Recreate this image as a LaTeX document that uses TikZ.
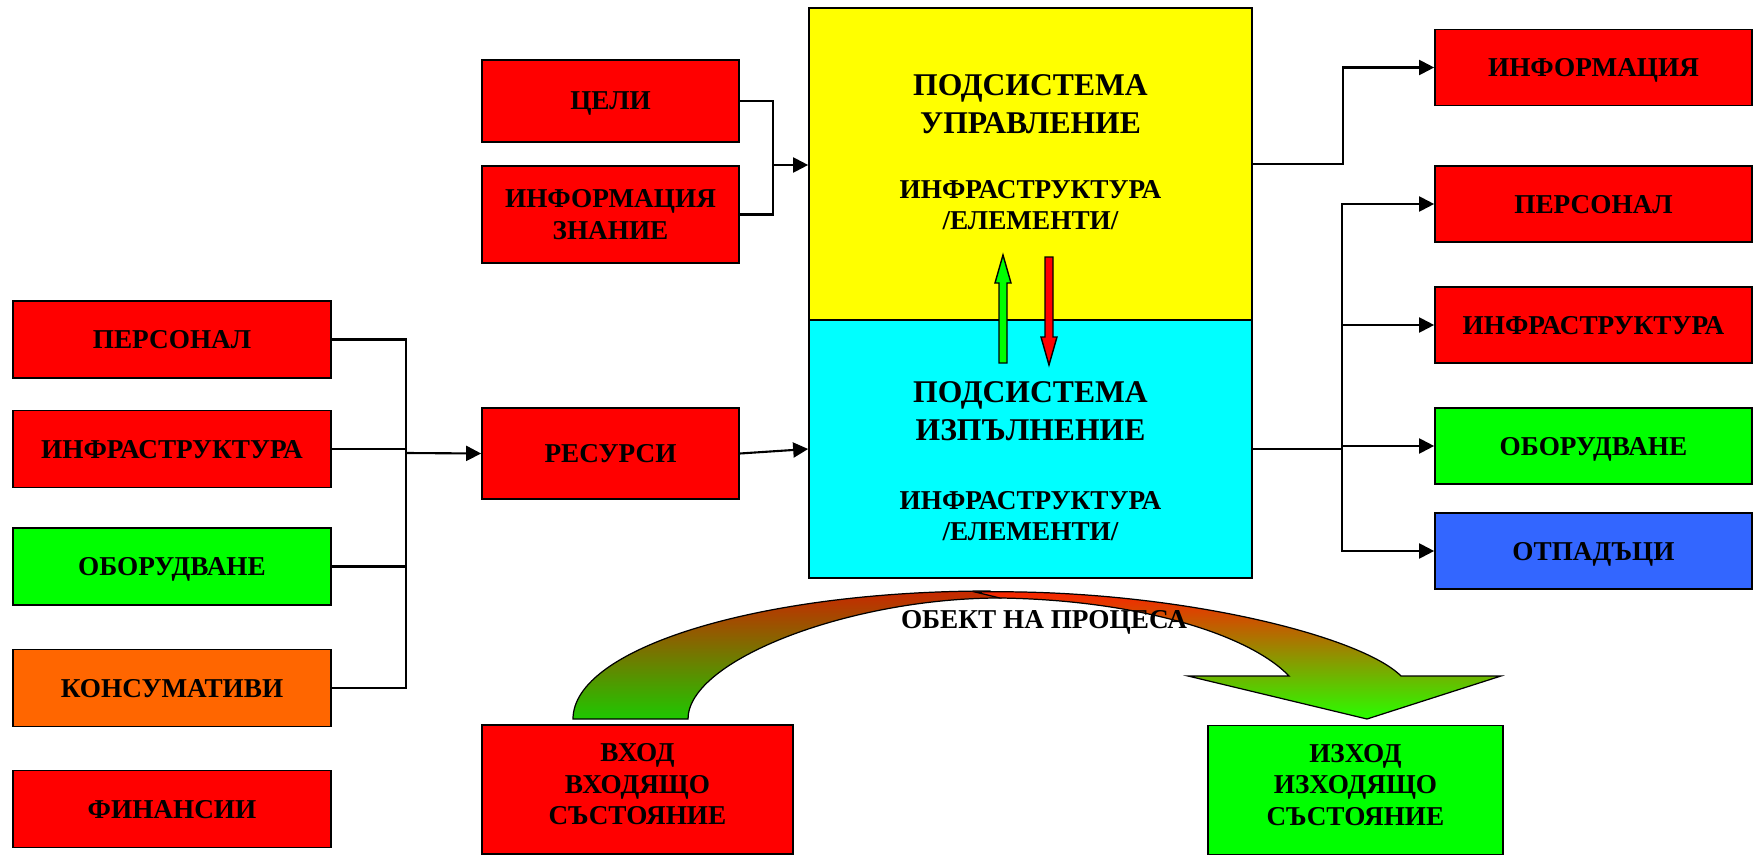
\documentclass[tikz,border=0pt]{standalone}
\usepackage{fontspec}
\setmainfont{Liberation Serif}
\usetikzlibrary{arrows.meta}

\definecolor{boxred}{RGB}{255,0,0}
\definecolor{boxgreen}{RGB}{0,255,0}
\definecolor{boxorange}{RGB}{255,102,0}
\definecolor{boxblue}{RGB}{51,102,255}
\definecolor{ctrlyellow}{RGB}{255,255,0}
\definecolor{execcyan}{RGB}{0,255,255}
\definecolor{bandtopdark}{RGB}{200,40,0}
\definecolor{bandmiddark}{RGB}{150,135,0}
\definecolor{bandbotdark}{RGB}{30,200,0}
\definecolor{bandtop}{RGB}{255,30,0}
\definecolor{bandmid}{RGB}{225,150,0}
\definecolor{bandbot}{RGB}{40,255,0}

\newcommand\blockfont{\bfseries\fontsize{15.5}{18}\selectfont}
\newcommand\headfont{\bfseries\fontsize{18}{21.5}\selectfont}

\begin{document}
\begin{tikzpicture}[
    x=0.02cm, y=-0.02cm,
    block/.style={draw, line width=1pt, inner sep=0pt, align=center, text depth=0pt, font=\blockfont},
    sidebox/.style={block, minimum width=6.36cm, minimum height=1.54cm},
    midbox/.style={block, minimum width=5.14cm},
    outbox/.style={block, minimum width=6.34cm, minimum height=1.52cm},
    statebox/.style={block, minimum height=2.58cm, text depth=6pt},
    subsys/.style={draw, line width=1pt, inner sep=0pt, minimum width=8.86cm},
    link/.style={line width=1.2pt},
    arrow/.style={-{Triangle[length=0.3cm, width=0.3cm]}, line width=1.2pt},
    band/.style={draw=black, line width=0.7pt}
]
\useasboundingbox (0,0) rectangle (1756,855);

% subsystems
\node[subsys, fill=ctrlyellow, minimum height=6.24cm] (ctrl) at (1030.5,164) {};
\node[subsys, fill=execcyan, minimum height=5.16cm] (exec) at (1030.5,449) {};
\node[align=center, font=\headfont] (ctrlhead) at (1030.5,104) {ПОДСИСТЕМА\\УПРАВЛЕНИЕ};
\node[align=center, font=\blockfont] (ctrlsub) at (1030.5,205) {ИНФРАСТРУКТУРА\\/ЕЛЕМЕНТИ/};
\node[align=center, font=\headfont] (exechead) at (1030.5,411) {ПОДСИСТЕМА\\ИЗПЪЛНЕНИЕ};
\node[align=center, font=\blockfont] (execsub) at (1030.5,516) {ИНФРАСТРУКТУРА\\/ЕЛЕМЕНТИ/};

% feedback arrows between the subsystems
\filldraw[fill=boxgreen, draw=black, line width=0.8pt]
  (999,363) -- (999,283) -- (995,283) -- (1003,255) -- (1011,283) -- (1007,283) -- (1007,363) -- cycle;
\filldraw[fill=boxred, draw=black, line width=0.8pt]
  (1045,257) -- (1053,257) -- (1053,337) -- (1057,337) -- (1049,365) -- (1041,337) -- (1045,337) -- cycle;

% left column
\node[sidebox, fill=boxred] (lpers) at (172,339.5) {ПЕРСОНАЛ};
\node[sidebox, fill=boxred] (linfra) at (172,449) {ИНФРАСТРУКТУРА};
\node[sidebox, fill=boxgreen] (lequip) at (172,566.5) {ОБОРУДВАНЕ};
\node[sidebox, fill=boxorange] (lcons) at (172,688) {КОНСУМАТИВИ};
\node[sidebox, fill=boxred] (lfin) at (172,809) {ФИНАНСИИ};

% middle column
\node[midbox, fill=boxred, minimum height=1.64cm] (goals) at (610.5,101) {ЦЕЛИ};
\node[midbox, fill=boxred, minimum height=1.94cm] (infoknow) at (610.5,214.5) {ИНФОРМАЦИЯ\\ЗНАНИЕ};
\node[midbox, fill=boxred, minimum height=1.82cm] (res) at (610.5,453.5) {РЕСУРСИ};

% right column
\node[outbox, fill=boxred] (rinfo) at (1593.5,67.5) {ИНФОРМАЦИЯ};
\node[outbox, fill=boxred] (rpers) at (1593.5,204) {ПЕРСОНАЛ};
\node[outbox, fill=boxred] (rinfra) at (1593.5,325) {ИНФРАСТРУКТУРА};
\node[outbox, fill=boxgreen] (requip) at (1593.5,446) {ОБОРУДВАНЕ};
\node[outbox, fill=boxblue] (rwaste) at (1593.5,551) {ОТПАДЪЦИ};

% input / output states
\node[statebox, fill=boxred, minimum width=6.22cm] (input) at (637.5,789.5) {ВХОД\\ВХОДЯЩО\\СЪСТОЯНИЕ};
\node[statebox, fill=boxgreen, minimum width=5.9cm] (output) at (1355.5,790) {ИЗХОД\\ИЗХОДЯЩО\\СЪСТОЯНИЕ};

% connectors
\coordinate (busA) at (773,165);
\draw[link] (goals.east) -| (busA);
\draw[link] (infoknow.east) -| (busA);
\draw[arrow] (busA) -- (busA -| ctrl.west);

\coordinate (busL) at (406,453);
\foreach \n in {lpers, linfra, lequip, lcons}
  \draw[link] (\n.east) -| (busL);
\draw[arrow] (busL) -- (res.west);
\draw[arrow] (res.east) -- (exec.west);

\draw[arrow] (ctrl.east) -- ++(90,0) |- (rinfo.west);
\coordinate (busR) at (1342,449);
\draw[link] (exec.east) -- (busR);
\foreach \n in {rpers, rinfra, requip, rwaste}
  \draw[arrow] (busR) |- (\n.west);

% curved arrow of the process object
\path[band, top color=bandtopdark, middle color=bandmiddark, bottom color=bandbotdark]
  (573,719) .. controls (573,648) and (760,591) .. (990,591)
  -- (1000,598) .. controls (850,598) and (688,660) .. (688,719) -- cycle;
\path[band, top color=bandtop, middle color=bandmid, bottom color=bandbot]
  (975,592) .. controls (1170,588) and (1360,635) .. (1401,676)
  -- (1501,676) -- (1367,719) -- (1188,676) -- (1289,676)
  .. controls (1250,635) and (1140,600) .. (1000,598) -- cycle;
\node[font=\blockfont] (object) at (1044,622) {ОБЕКТ НА ПРОЦЕСА};
\end{tikzpicture}
\end{document}
